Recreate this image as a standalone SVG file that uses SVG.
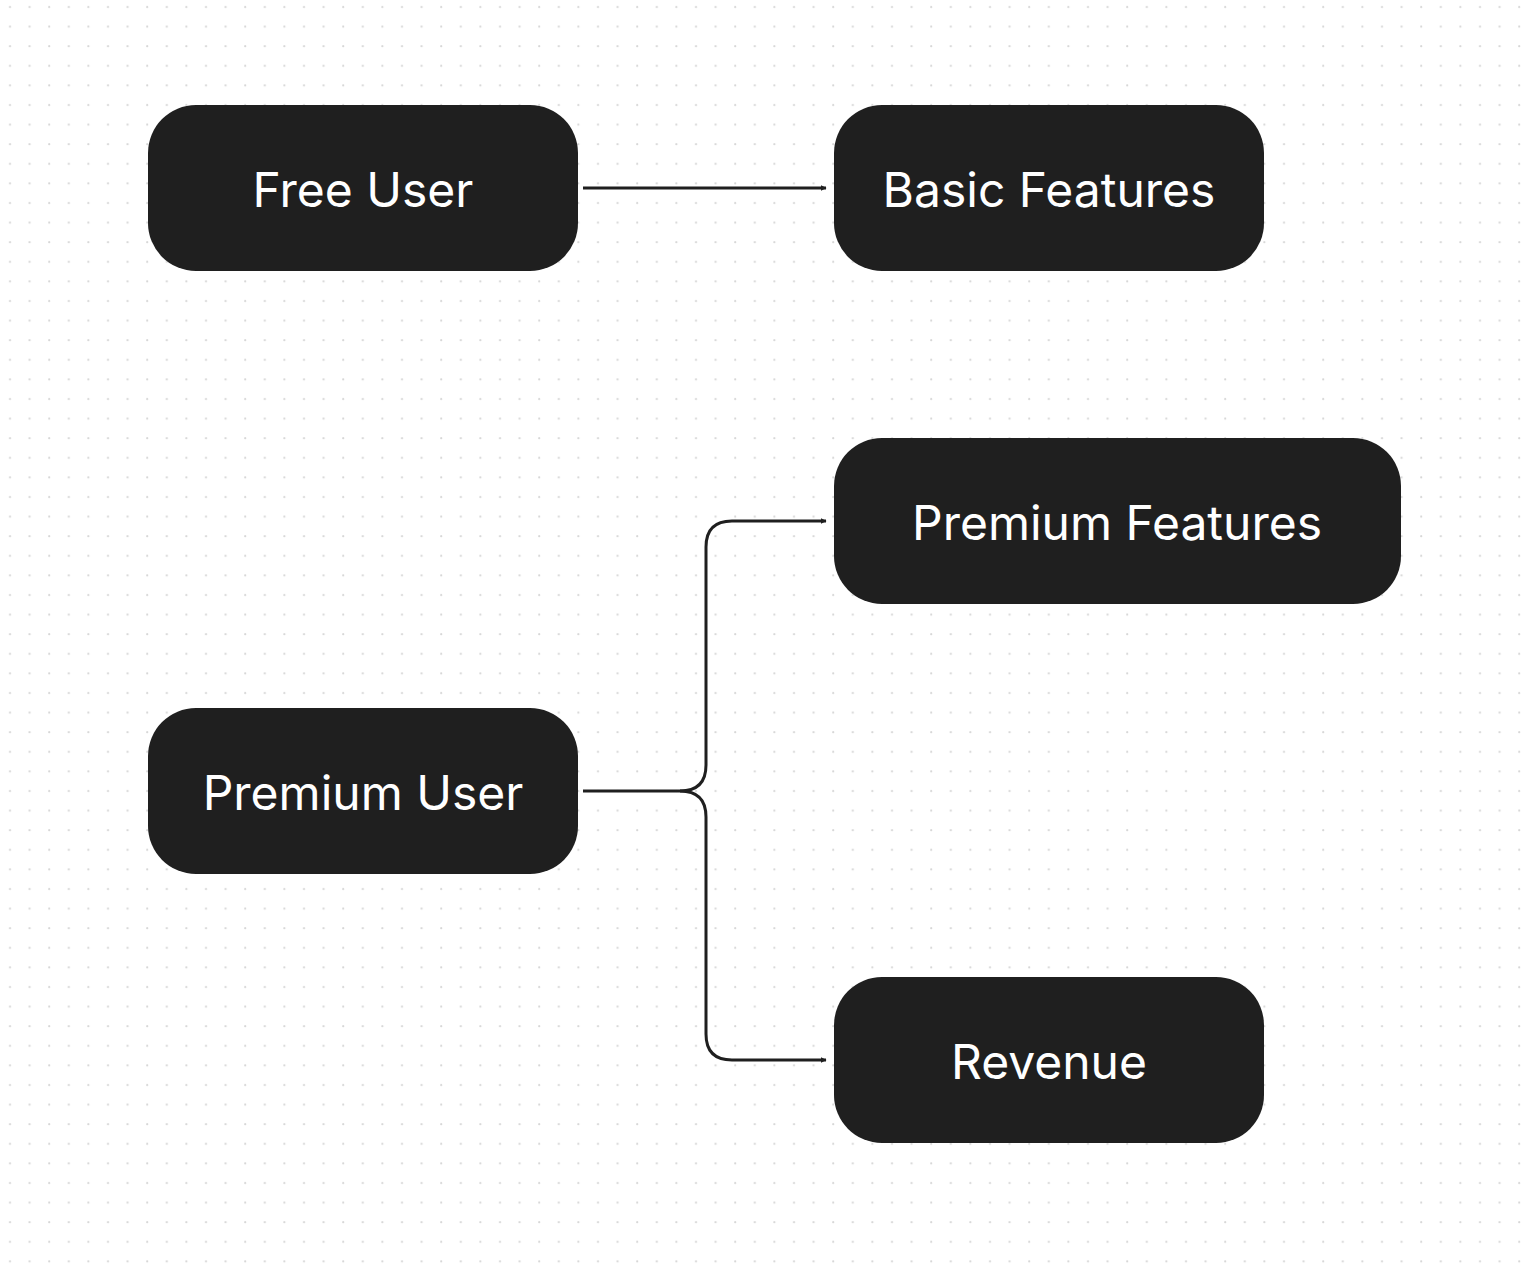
<svg xmlns="http://www.w3.org/2000/svg" width="1536" height="1264" viewBox="0 0 1536 1264">
<style>
.n{fill:#1f1f1f}
.t{fill:#fff;font-family:Inter,"Noto Sans",sans-serif;font-size:48px;text-anchor:middle;dominant-baseline:central}
.c{fill:none;stroke:#1f1f1f;stroke-width:3}
</style>
<defs>
<pattern id="dots" x="0" y="0" width="19.6" height="19.6" patternUnits="userSpaceOnUse">
<circle cx="10" cy="7" r="1.1" fill="#d6d6d6"/>
</pattern>
<marker id="a" viewBox="0 0 10 10" refX="9" refY="5" markerWidth="6" markerHeight="6" orient="auto" markerUnits="userSpaceOnUse">
<path d="M0,0L10,5L0,10z" fill="#1f1f1f"/>
</marker>
</defs>
<rect width="1536" height="1264" fill="#fff"/>
<rect width="1536" height="1264" fill="url(#dots)"/>
<g id="connectors">
<path class="c" d="M583,188H826" marker-end="url(#a)" style="marker-end:url(#a)"/>
<path class="c" d="M583,791H680Q706,791 706,765V547Q706,521 732,521H826" marker-end="url(#a)"/>
<path class="c" d="M680,791Q706,791 706,817V1034Q706,1060 732,1060H826" marker-end="url(#a)"/>
</g>
<g id="free"><rect class="n" x="148" y="105" width="430" height="166" rx="48"/><text class="t" x="363" y="189">Free User</text></g>
<g id="basic"><rect class="n" x="834" y="105" width="430" height="166" rx="48"/><text class="t" x="1049" y="189">Basic Features</text></g>
<g id="pf"><rect class="n" x="834" y="438" width="567" height="166" rx="48"/><text class="t" x="1117" y="522">Premium Features</text></g>
<g id="pu"><rect class="n" x="148" y="708" width="430" height="166" rx="48"/><text class="t" x="363" y="792">Premium User</text></g>
<g id="rev"><rect class="n" x="834" y="977" width="430" height="166" rx="48"/><text class="t" x="1049" y="1061">Revenue</text></g>
</svg>
